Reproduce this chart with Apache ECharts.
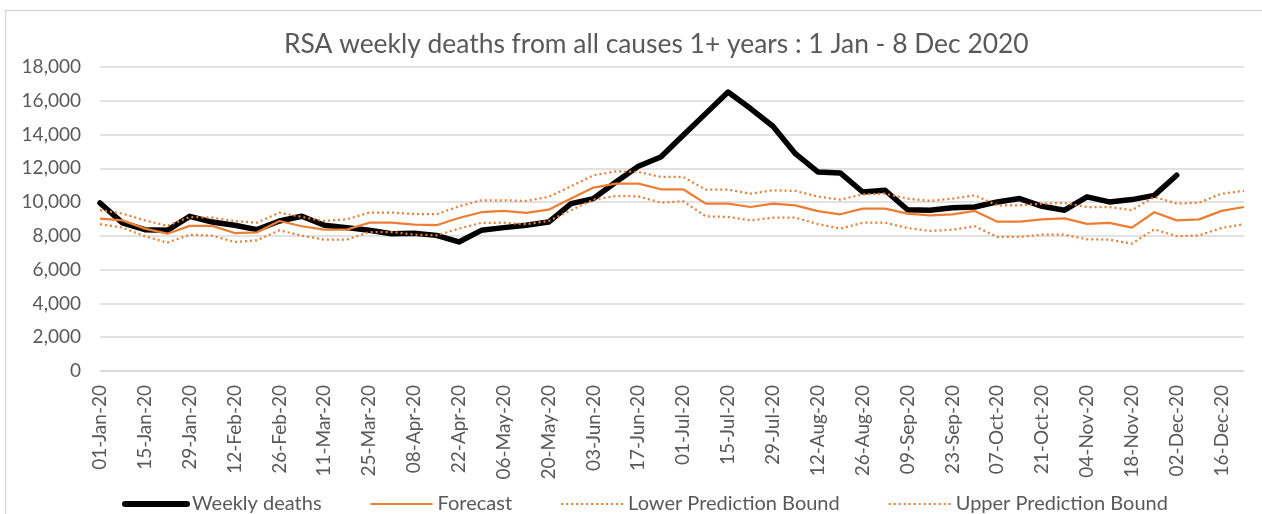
<!DOCTYPE html>
<html lang="en">
<head>
    <meta charset="UTF-8">
    <title>RSA weekly deaths</title>
    <script src="https://cdn.jsdelivr.net/npm/echarts@6/dist/echarts.min.js"></script>
    <style>
        html, body {
            margin: 0;
            padding: 0;
            background: #fff;
        }
        #chart {
            width: 1262px;
            height: 514px;
        }
    </style>
</head>
<body>
    <div id="chart"></div>

<script>
// weekly dates, 2020
const weeks = [
    '01-Jan-20', '08-Jan-20', '15-Jan-20', '22-Jan-20', '29-Jan-20',
    '05-Feb-20', '12-Feb-20', '19-Feb-20', '26-Feb-20',
    '04-Mar-20', '11-Mar-20', '18-Mar-20', '25-Mar-20',
    '01-Apr-20', '08-Apr-20', '15-Apr-20', '22-Apr-20', '29-Apr-20',
    '06-May-20', '13-May-20', '20-May-20', '27-May-20',
    '03-Jun-20', '10-Jun-20', '17-Jun-20', '24-Jun-20',
    '01-Jul-20', '08-Jul-20', '15-Jul-20', '22-Jul-20', '29-Jul-20',
    '05-Aug-20', '12-Aug-20', '19-Aug-20', '26-Aug-20',
    '02-Sep-20', '09-Sep-20', '16-Sep-20', '23-Sep-20', '30-Sep-20',
    '07-Oct-20', '14-Oct-20', '21-Oct-20', '28-Oct-20',
    '04-Nov-20', '11-Nov-20', '18-Nov-20', '25-Nov-20',
    '02-Dec-20', '09-Dec-20', '16-Dec-20', '23-Dec-20'
];

// observed deaths (up to 02-Dec)
const weeklyDeaths = [
    9950, 8770, 8370, 8330, 9160, 8820, 8630, 8370, 8880, 9160,
    8630, 8490, 8330, 8130, 8150, 8030, 7640, 8330, 8490, 8630,
    8820, 9910, 10210, 11190, 12120, 12670, 13960, 15240, 16520, 15540,
    14490, 12870, 11790, 11730, 10600, 10700, 9550, 9520, 9670, 9710,
    10010, 10210, 9750, 9520, 10310, 10010, 10150, 10400, 11590
];

const forecast = [
    9020, 8920, 8430, 8130, 8590, 8590, 8170, 8210, 8880, 8570,
    8370, 8370, 8780, 8780, 8670, 8630, 9060, 9400, 9480, 9360,
    9550, 10210, 10860, 11090, 11090, 10760, 10760, 9910, 9910, 9710,
    9910, 9810, 9470, 9280, 9610, 9610, 9320, 9220, 9280, 9480,
    8840, 8840, 8980, 9040, 8710, 8770, 8490, 9400, 8920, 8980,
    9480, 9710
];

const lowerBound = [
    8690, 8490, 7980, 7600, 8070, 8010, 7640, 7740, 8330, 8010,
    7780, 7780, 8230, 8230, 8080, 8030, 8430, 8770, 8780, 8690,
    8880, 9520, 10150, 10360, 10340, 9970, 10050, 9160, 9120, 8920,
    9080, 9080, 8700, 8430, 8780, 8780, 8470, 8290, 8370, 8570,
    7940, 7940, 8070, 8070, 7800, 7780, 7540, 8390, 7980, 8030,
    8470, 8690
];

const upperBound = [
    9520, 9320, 8920, 8590, 9120, 9080, 8880, 8780, 9380, 9120,
    8880, 8980, 9380, 9380, 9300, 9280, 9750, 10110, 10110, 10070,
    10310, 10940, 11590, 11820, 11790, 11490, 11490, 10740, 10740, 10500,
    10700, 10660, 10330, 10150, 10460, 10500, 10210, 10070, 10210, 10400,
    9810, 9810, 9910, 9950, 9710, 9710, 9520, 10310, 9910, 9970,
    10500, 10660
];

const yTicks = { min: 0, max: 18000, interval: 2000 };

const textGrey = '#595959';
const orange = '#ED7D31';
const fontName = 'Lato, "Open Sans", sans-serif';

const chart = echarts.init(document.getElementById('chart'));

chart.setOption({
    backgroundColor: '#fff',
    animation: false,
    title: {
        text: 'RSA weekly deaths from all causes 1+ years : 1 Jan - 8 Dec 2020',
        left: 279,
        top: 26,
        textStyle: {
            color: textGrey,
            fontFamily: fontName,
            fontWeight: 'normal',
            fontSize: 26.4
        }
    },
    // chart frame
    graphic: [{
        type: 'rect',
        shape: { x: 5.5, y: 10.5, width: 1300, height: 600 },
        style: { fill: 'none', stroke: '#d9d9d9', lineWidth: 1.5 },
        silent: true
    }],
    legend: {
        data: [
            { name: 'Weekly deaths', lineStyle: { width: 6, cap: 'round' } },
            'Forecast',
            'Lower Prediction Bound',
            'Upper Prediction Bound'
        ],
        left: 117,
        top: 489,
        itemWidth: 62,
        itemHeight: 20,
        itemGap: 48,
        itemStyle: { opacity: 0 },
        textStyle: {
            color: textGrey,
            fontFamily: fontName,
            fontSize: 20
        }
    },
    grid: {
        left: 100,
        right: 18,
        top: 67,
        bottom: 143
    },
    xAxis: {
        type: 'category',
        data: weeks,
        boundaryGap: false,
        axisLine: { lineStyle: { color: '#d9d9d9', width: 1.5 } },
        axisTick: { show: false },
        axisLabel: {
            rotate: 90,
            interval: 1,
            margin: 14,
            color: textGrey,
            fontFamily: fontName,
            fontSize: 19
        }
    },
    yAxis: {
        type: 'value',
        min: yTicks.min,
        max: yTicks.max,
        interval: yTicks.interval,
        axisLine: { show: false },
        axisTick: { show: false },
        splitLine: { lineStyle: { color: '#d9d9d9', width: 1.5 } },
        axisLabel: {
            margin: 19,
            color: textGrey,
            fontFamily: fontName,
            fontSize: 19,
            formatter: v => v.toLocaleString('en-US')
        }
    },
    series: [
        {
            name: 'Weekly deaths',
            type: 'line',
            data: weeklyDeaths,
            symbol: 'none',
            color: '#000',
            lineStyle: { color: '#000', width: 5.5, cap: 'round', join: 'round' }
        },
        {
            name: 'Forecast',
            type: 'line',
            data: forecast,
            symbol: 'none',
            color: orange,
            lineStyle: { color: orange, width: 2.25 }
        },
        {
            name: 'Lower Prediction Bound',
            type: 'line',
            data: lowerBound,
            symbol: 'none',
            color: orange,
            lineStyle: { color: orange, width: 2.25, type: [2, 3] }
        },
        {
            name: 'Upper Prediction Bound',
            type: 'line',
            data: upperBound,
            symbol: 'none',
            color: orange,
            lineStyle: { color: orange, width: 2.25, type: [2, 3] }
        }
    ]
});
</script>
</body>
</html>
